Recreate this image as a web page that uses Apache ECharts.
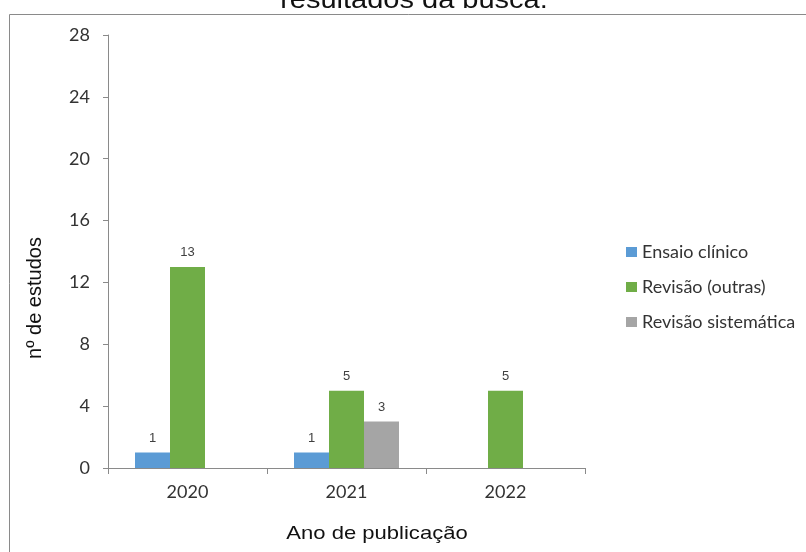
<!DOCTYPE html>
<html>
<head>
<meta charset="utf-8">
<script src="https://cdn.jsdelivr.net/npm/echarts@6/dist/echarts.min.js"></script>
<style>
  html, body { margin: 0; padding: 0; background: #fff; }
  #chart { width: 806px; height: 552px; }
</style>
</head>
<body>
<div id="chart"></div>
<script>
// Publication years and study counts per study type
const years = ['2020', '2021', '2022'];
const seriesNames = ['Ensaio clínico', 'Revisão (outras)', 'Revisão sistemática'];
const ensaioClinico = [1, 1, 0];
const revisaoOutras = [13, 5, 5];
const revisaoSistematica = [0, 3, 0];
const yTicks = { min: 0, max: 28, interval: 4 };

const colors = ['#5B9BD5', '#70AD47', '#A5A5A5'];
const axisColor = '#8a8a8a';
const textColor = '#333';
const tickFont = 'Lato, "Noto Sans", sans-serif';
const sansFont = '"Liberation Sans", Arial, sans-serif';

const chart = echarts.init(document.getElementById('chart'), null, { renderer: 'canvas' });

function barSeries(name, data, color) {
  return {
    name: name,
    type: 'bar',
    data: data,
    barWidth: 35,
    barGap: '0%',
    itemStyle: { color: color },
    label: {
      show: true,
      position: 'top',
      distance: 8,
      color: '#404040',
      fontFamily: sansFont,
      fontSize: 13,
      formatter: p => (p.value === 0 ? '' : String(p.value))
    }
  };
}

chart.setOption({
  animation: false,
  backgroundColor: '#ffffff',
  grid: { left: 108, right: 221, top: 35, bottom: 84 },
  legend: {
    orient: 'vertical',
    left: 621,
    top: 238,
    itemWidth: 11,
    itemHeight: 10,
    itemGap: 17,
    icon: 'rect',
    data: seriesNames,
    textStyle: { color: textColor, fontFamily: tickFont, fontSize: 18, padding: [0, 0, 0, 0] }
  },
  xAxis: {
    type: 'category',
    data: years,
    axisLine: { lineStyle: { color: axisColor } },
    axisTick: { show: true, length: 6, lineStyle: { color: axisColor } },
    axisLabel: { color: textColor, fontFamily: tickFont, fontSize: 18, margin: 15 },
    splitLine: { show: false }
  },
  yAxis: {
    type: 'value',
    min: yTicks.min,
    max: yTicks.max,
    interval: yTicks.interval,
    axisLine: { show: true, lineStyle: { color: axisColor } },
    axisTick: { show: true, length: 5, lineStyle: { color: axisColor } },
    axisLabel: { color: textColor, fontFamily: tickFont, fontSize: 18, margin: 18 },
    splitLine: { show: false }
  },
  series: [
    barSeries(seriesNames[0], ensaioClinico, colors[0]),
    barSeries(seriesNames[1], revisaoOutras, colors[1]),
    barSeries(seriesNames[2], revisaoSistematica, colors[2])
  ],
  graphic: [
    {
      type: 'rect',
      z: -1,
      silent: true,
      shape: { x: 9.5, y: 14.5, width: 1000, height: 1000 },
      style: { fill: 'none', stroke: '#8a8a8a', lineWidth: 1 }
    },
    {
      type: 'text',
      x: 414,
      y: 14,
      scaleX: 1.16,
      style: {
        text: 'resultados da busca.',
        font: '25px "Liberation Sans", Arial, sans-serif',
        fill: '#111',
        textAlign: 'center',
        textVerticalAlign: 'bottom'
      }
    },
    {
      type: 'text',
      x: 377,
      y: 534,
      scaleX: 1.16,
      style: {
        text: 'Ano de publicação',
        font: '19px "Liberation Sans", Arial, sans-serif',
        fill: '#111',
        textAlign: 'center',
        textVerticalAlign: 'middle'
      }
    },
    {
      type: 'text',
      x: 35,
      y: 298,
      rotation: Math.PI / 2,
      style: {
        text: 'nº de estudos',
        font: '20px "Liberation Sans", Arial, sans-serif',
        fill: '#111',
        textAlign: 'center',
        textVerticalAlign: 'middle'
      }
    }
  ]
});
</script>
</body>
</html>
